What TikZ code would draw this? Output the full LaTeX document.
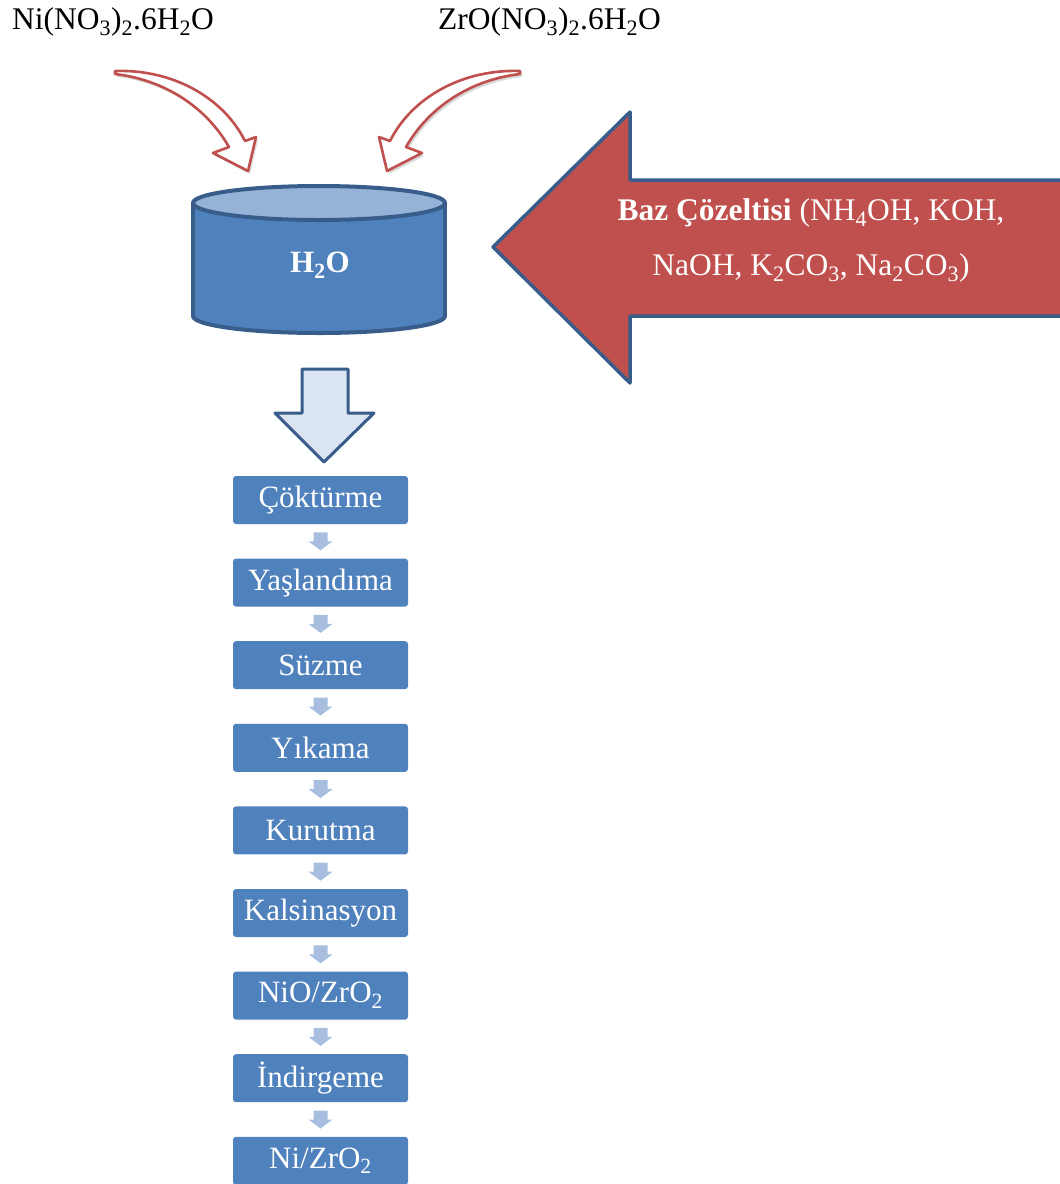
\documentclass[tikz,border=0pt]{standalone}
\usepackage{fontspec}
\setmainfont{Liberation Serif}
\usetikzlibrary{positioning,calc}

\definecolor{boxblue}{RGB}{79,129,189}
\definecolor{rimblue}{RGB}{56,93,138}
\definecolor{topblue}{RGB}{149,179,215}
\definecolor{paleblue}{RGB}{220,230,242}
\definecolor{stepblue}{RGB}{167,190,222}
\definecolor{basered}{RGB}{192,80,77}

% outline of the curved feed arrow (left one)
\newcommand{\curlshape}{(115,71) .. controls (172,69) and (223,97) .. (245,141) -- (256,137) -- (248,171) -- (213,153) -- (229,147) .. controls (206,107) and (165,80) .. (115,74) -- cycle}

\begin{document}
\begin{tikzpicture}[ x = 1pt, y = -1pt, node distance = 34.2pt ]
        \tikzset{StepStyle/.style={fill=boxblue, rounded corners=3pt, minimum width=175pt, minimum height=48pt,
                 inner sep=0pt, text=white, font=\fontsize{31}{33}\selectfont}}
        \tikzset{SmallArrow/.style={fill=stepblue}}
        \tikzset{CurlArrow/.style={draw=basered, fill=white, line width=2.6pt, line join=round}}
        \tikzset{LabelStyle/.style={inner sep=0pt, font=\fontsize{31.5}{33}\selectfont}}

        \useasboundingbox (0,0) rectangle (1060,1184);

        % salts
        \node[LabelStyle, anchor=west] (ni) at (12,22) {Ni(NO\textsubscript{3})\textsubscript{2}.6H\textsubscript{2}O};
        \node[LabelStyle, anchor=west] (zr) at (438,22) {ZrO(NO\textsubscript{3})\textsubscript{2}.6H\textsubscript{2}O};

        \fill[gray!30, xshift=2pt, yshift=-3pt] \curlshape;
        \draw[CurlArrow] \curlshape;
        \begin{scope}[xshift=635pt, xscale=-1]
          \fill[gray!30, xshift=-2pt, yshift=-3pt] \curlshape;
          \draw[CurlArrow] \curlshape;
        \end{scope}

        % tank
        \filldraw[fill=boxblue, draw=rimblue, line width=4pt] (319,316) ellipse [x radius=126, y radius=17];
        \fill[boxblue] (193,203) rectangle (445,316);
        \draw[rimblue, line width=4pt] (193,203) -- (193,316) (445,203) -- (445,316);
        \filldraw[fill=topblue, draw=rimblue, line width=4pt] (319,203) ellipse [x radius=126, y radius=17];
        \node[LabelStyle, text=white, font=\fontsize{31}{33}\selectfont\bfseries] (water) at (320,265) {H\textsubscript{2}O};

        % base solution
        \draw[fill=basered, draw=rimblue, line width=3.5pt, line join=round]
              (493,247) -- (630,112) -- (630,180) -- (1066,180) -- (1066,316) -- (630,316) -- (630,383) -- cycle;
        \node[LabelStyle, text=white, align=center, font=\fontsize{31.5}{55}\selectfont] (baz) at (811,240)
              {\textbf{Baz Çözeltisi} (NH\textsubscript{4}OH, KOH,\\NaOH, K\textsubscript{2}CO\textsubscript{3}, Na\textsubscript{2}CO\textsubscript{3})};

        \filldraw[fill=paleblue, draw=rimblue, line width=3pt, line join=round]
              (302,369) -- (348,369) -- (348,413) -- (374,413) -- (324,462) -- (275,413) -- (302,413) -- cycle;

        % steps
        \node[StepStyle] (s1) at (320.5,500) {Çöktürme};
        \node[StepStyle, below=of s1] (s2) {Yaşlandıma};
        \node[StepStyle, below=of s2] (s3) {Süzme};
        \node[StepStyle, below=of s3] (s4) {Yıkama};
        \node[StepStyle, below=of s4] (s5) {Kurutma};
        \node[StepStyle, below=of s5] (s6) {Kalsinasyon};
        \node[StepStyle, below=of s6] (s7) {NiO/ZrO\textsubscript{2}};
        \node[StepStyle, below=of s7] (s8) {İndirgeme};
        \node[StepStyle, below=of s8] (s9) {Ni/ZrO\textsubscript{2}};

        \foreach \a/\b in {s1/s2, s2/s3, s3/s4, s4/s5, s5/s6, s6/s7, s7/s8, s8/s9}
          \fill[SmallArrow] ($(\a.south)!.5!(\b.north)$) ++(-7,-9) -- ++(14,0) -- ++(0,9) -- ++(5,0)
                -- ++(-12,9) -- ++(-12,-9) -- ++(5,0) -- cycle;

      \end{tikzpicture}
\end{document}
